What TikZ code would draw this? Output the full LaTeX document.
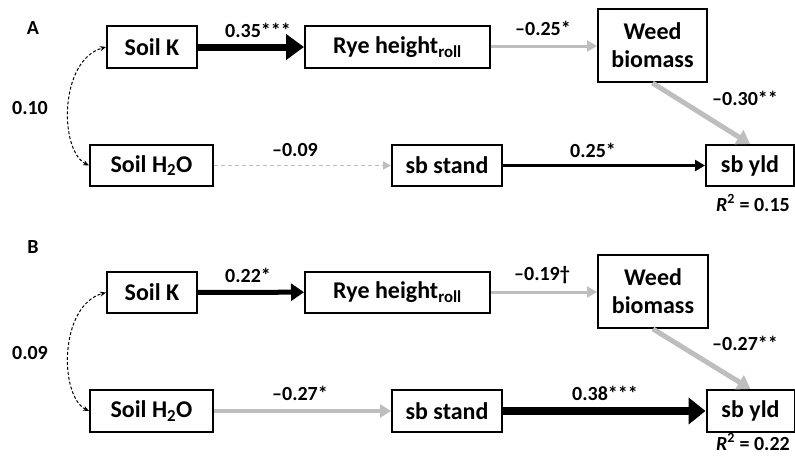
\documentclass[tikz,border=0pt]{standalone}
\usepackage{fontspec}
\setmainfont{Carlito}
\usetikzlibrary{arrows.meta}
\definecolor{lgray}{RGB}{190,190,190}
\begin{document}
\begin{tikzpicture}[x=1pt,y=-1pt,
  box/.style={draw, line width=2pt, inner sep=0pt, align=center,
    font=\fontsize{24}{28}\selectfont\bfseries},
  lab/.style={font=\fontsize{20}{24}\selectfont\bfseries, inner sep=0pt},
  corr/.style={line width=1pt, dash pattern=on 3pt off 2pt,
    {Stealth[length=6pt,width=5pt]}-{Stealth[length=6pt,width=5pt]}},
  blk/.style={draw=black, line width=#1},
  gry/.style={draw=lgray, line width=#1},
]
\useasboundingbox (0,0) rectangle (795,456);

% ---------------- Panel A ----------------
\node[lab] (pA) at (33,28) {A};
\node[box, minimum width=90pt, minimum height=42pt] (skA) at (152,47) {Soil K};
\node[box, minimum width=185pt, minimum height=42pt] (ryeA) at (397.5,47) {Rye height\textsubscript{roll}};
\node[box, minimum width=109pt, minimum height=73pt] (weedA) at (652.5,45.5) {Weed\\biomass};
\node[box, minimum width=123pt, minimum height=41pt] (h2oA) at (151.5,165.5) {Soil H\textsubscript{2}O};
\node[box, minimum width=110pt, minimum height=41pt] (standA) at (447,165.5) {sb stand};
\node[box, minimum width=88pt, minimum height=41pt] (yldA) at (750,165.5) {sb yld};

\draw[blk=7pt, -{Triangle[length=18pt,width=25pt]}] (skA) -- (ryeA);
\draw[gry=3pt, -{Triangle[length=10pt,width=11pt]}, lgray] (ryeA.east |- 0,46) -- (weedA.west |- 0,46);
\draw[gry=5pt, -{Triangle[length=13pt,width=16pt]}, lgray] (weedA.south) -- (yldA.north);
\draw[lgray, line width=1.5pt, dash pattern=on 4pt off 3pt, -{Triangle[length=8pt,width=8pt]}] (h2oA) -- (standA);
\draw[blk=3pt, -{Triangle[length=10pt,width=11pt]}] (standA) -- (yldA);
\draw[corr] (h2oA.west) .. controls +(-30,-15) and +(-47,13) .. (skA.west);

\node[lab] (lA1) at (258,30) {0.35***};
\node[lab] (lA2) at (543,28) {--0.25*};
\node[lab] (lA3) at (745,98) {--0.30**};
\node[lab] (lA4) at (295,150) {--0.09};
\node[lab] (lA5) at (593,150) {0.25*};
\node[lab] (lA6) at (30,108) {0.10};
\node[lab] (rA) at (753,203) {\textit{R}\textsuperscript{2} = 0.15};

% ---------------- Panel B ----------------
\node[lab] (pB) at (33,247) {B};
\node[box, minimum width=90pt, minimum height=41pt] (skB) at (152,292.5) {Soil K};
\node[box, minimum width=185pt, minimum height=41pt] (ryeB) at (397.5,292) {Rye height\textsubscript{roll}};
\node[box, minimum width=110pt, minimum height=73pt] (weedB) at (653,291.5) {Weed\\biomass};
\node[box, minimum width=123pt, minimum height=42pt] (h2oB) at (151.5,411) {Soil H\textsubscript{2}O};
\node[box, minimum width=110pt, minimum height=42pt] (standB) at (447,411) {sb stand};
\node[box, minimum width=88pt, minimum height=42pt] (yldB) at (750.5,411) {sb yld};

\draw[blk=5pt, -{Triangle[length=13pt,width=17pt]}] (skB) -- (ryeB);
\draw[gry=3pt, -{Triangle[length=10pt,width=11pt]}, lgray] (ryeB) -- (weedB.west |- ryeB);
\draw[gry=5pt, -{Triangle[length=13pt,width=16pt]}, lgray] (weedB.south) -- (yldB.north);
\draw[gry=4pt, -{Triangle[length=11pt,width=13pt]}, lgray] (h2oB) -- (standB);
\draw[blk=8pt, -{Triangle[length=17pt,width=26pt]}] (standB) -- (yldB);
\draw[corr] (h2oB.west) .. controls +(-30,-15) and +(-47,13) .. (skB.west);

\node[lab] (lB1) at (248,275) {0.22*};
\node[lab] (lB2) at (542,275) {--0.19†};
\node[lab] (lB3) at (745,343) {--0.27**};
\node[lab] (lB4) at (300,393) {--0.27*};
\node[lab] (lB5) at (605,393) {0.38***};
\node[lab] (lB6) at (30,353) {0.09};
\node[lab] (rB) at (753,442) {\textit{R}\textsuperscript{2} = 0.22};
\end{tikzpicture}
\end{document}
